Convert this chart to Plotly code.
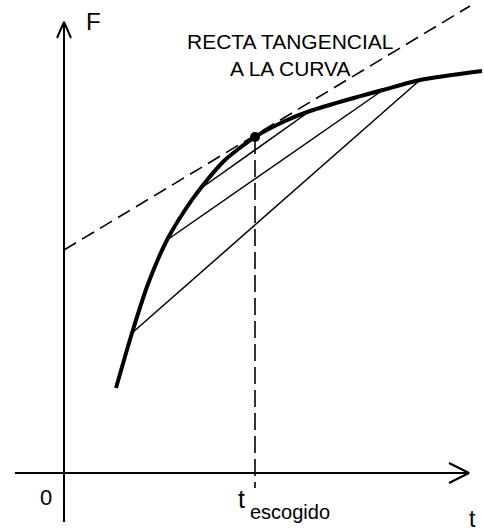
import plotly.graph_objects as go

# ---- data (diagram units: x to the right, y downward as in the picture) ----
curve_x = [116, 132, 148, 167, 185, 200, 225, 255, 285, 310, 350, 383, 420, 482]
curve_y = [388, 333, 284, 240, 210, 189, 160, 137, 121, 111, 99, 90, 80, 71]

# chords: (start index on curve, end index on curve)
chord_from = [1, 3, 5]
chord_to = [12, 11, 9]

tangent_x = [64, 470]
tangent_y = [250, 6]

chosen_idx = 7  # t escogido point on the curve

y_axis_x = [64, 64]
y_axis_y = [522, 22]
x_axis_x = [15, 469]
x_axis_y = [473, 473]

W, H = 484, 531
BLACK = "black"
FONT = "Liberation Sans, Arial, sans-serif"

fig = go.Figure()

def line(xs, ys, width, dash="solid", shape="linear", smoothing=None):
    kw = dict(color=BLACK, width=width, dash=dash, shape=shape)
    if smoothing is not None:
        kw["smoothing"] = smoothing
    fig.add_trace(go.Scatter(x=xs, y=ys, mode="lines", line=kw,
                             hoverinfo="skip", showlegend=False))

# axes
line(y_axis_x, y_axis_y, 2)
line(x_axis_x, x_axis_y, 2)
# arrow heads
line([y_axis_x[1] - 7, y_axis_x[1], y_axis_x[1] + 7],
     [y_axis_y[1] + 16, y_axis_y[1], y_axis_y[1] + 16], 2)
line([x_axis_x[1] - 20, x_axis_x[1], x_axis_x[1] - 20],
     [x_axis_y[1] - 10, x_axis_y[1], x_axis_y[1] + 10], 2)

# tangent dashed line
line(tangent_x, tangent_y, 1.6, dash="14px,7px")

# chords
for a, b in zip(chord_from, chord_to):
    line([curve_x[a], curve_x[b]], [curve_y[a], curve_y[b]], 1.5)

# vertical dashed line at t escogido
tx, ty = curve_x[chosen_idx], curve_y[chosen_idx]
line([tx, tx], [ty, 488], 1.6, dash="17px,6px")

# main curve
line(curve_x, curve_y, 4, shape="spline", smoothing=0.7)

# chosen point
fig.add_trace(go.Scatter(x=[tx], y=[ty], mode="markers",
                         marker=dict(color=BLACK, size=10),
                         hoverinfo="skip", showlegend=False))

def text(t, x, y, size, xanchor="center"):
    fig.add_annotation(x=x, y=y, text=t, showarrow=False, xanchor=xanchor,
                       yanchor="middle", font=dict(family=FONT, size=size, color=BLACK))

text("F", 93, 21, 24)
text("RECTA TANGENCIAL<br>A LA CURVA", 290, 55, 21)
text("0", 46, 497, 22)
text("t", 241, 499, 25)
text("escogido", 290, 512, 20)
text("t", 472, 519, 23)

fig.update_layout(
    width=W, height=H,
    margin=dict(l=0, r=0, t=0, b=0),
    paper_bgcolor="white", plot_bgcolor="white",
    xaxis=dict(range=[0, W], visible=False, fixedrange=True),
    yaxis=dict(range=[H, 0], visible=False, fixedrange=True),
)

fig.write_html("out.html", config={"displayModeBar": False})

# remove the browser's default page margin so the figure fills the window
with open("out.html", encoding="utf-8") as f:
    html = f.read()
html = html.replace("<head>", "<head><style>html,body{margin:0;padding:0;overflow:hidden;}</style>", 1)
with open("out.html", "w", encoding="utf-8") as f:
    f.write(html)
